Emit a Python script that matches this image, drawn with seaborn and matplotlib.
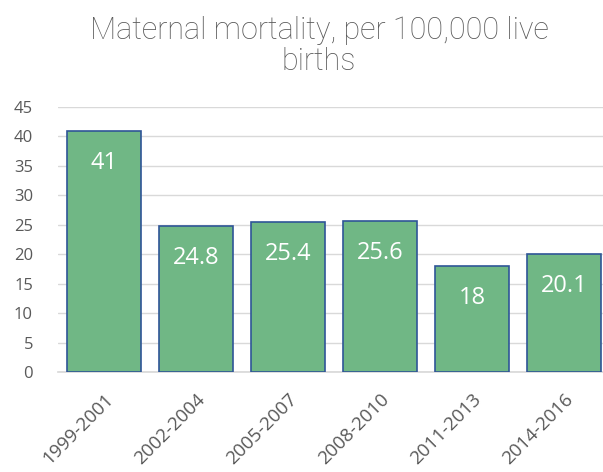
import matplotlib
matplotlib.use("Agg")
import matplotlib.pyplot as plt
import seaborn as sns
import pandas as pd

periods = ["1999-2001", "2002-2004", "2005-2007", "2008-2010", "2011-2013", "2014-2016"]
values = [41, 24.8, 25.4, 25.6, 18, 20.1]
value_labels = ["41", "24.8", "25.4", "25.6", "18", "20.1"]
yticks = [0, 5, 10, 15, 20, 25, 30, 35, 40, 45]

sns.set_theme(style="white")
plt.rcParams['font.family'] = ['Open Sans', 'DejaVu Sans']

df = pd.DataFrame({"period": periods, "value": values})

fig = plt.figure(figsize=(6.03, 4.72), dpi=100)
ax = fig.add_axes([58/603, 100/472, 552/603, 265/472])

sns.barplot(data=df, x="period", y="value", ax=ax, color="#70B785",
            saturation=1, width=0.815, edgecolor="#2F5597", linewidth=1.2, zorder=3)

ax.set_ylim(0, 45)
ax.set_xlim(-0.5, 5.5)
ax.set_yticks(yticks)
ax.set_yticklabels([str(t) for t in yticks], fontsize=12, color="#595959")
ax.yaxis.grid(True, color="#D9D9D9", linewidth=1, zorder=0)
ax.set_axisbelow(True)
for s in ["top", "right", "left"]:
    ax.spines[s].set_visible(False)
ax.spines["bottom"].set_color("#D9D9D9")
ax.tick_params(axis="y", length=0, pad=18)
ax.tick_params(axis="x", length=0, pad=13)
ax.set_xlabel("")
ax.set_ylabel("")
ax.set_xticks(range(len(periods)))
ax.set_xticklabels(periods, rotation=45, ha="right", rotation_mode="anchor",
                   fontsize=13.5, color="#595959")

for i, (v, lab) in enumerate(zip(values, value_labels)):
    ax.annotate(lab, xy=(i, v), xytext=(0, -23), textcoords="offset points",
                ha="center", va="center", color="white", fontsize=17, zorder=5)

fig.text(319/603, 1 - 46/472, "Maternal mortality, per 100,000 live\nbirths",
         ha="center", va="center", fontsize=22, color="#595959",
         linespacing=1.1, family=["Roboto", "Open Sans", "DejaVu Sans"],
         fontweight="light")

fig.savefig("out.png", dpi=100)
